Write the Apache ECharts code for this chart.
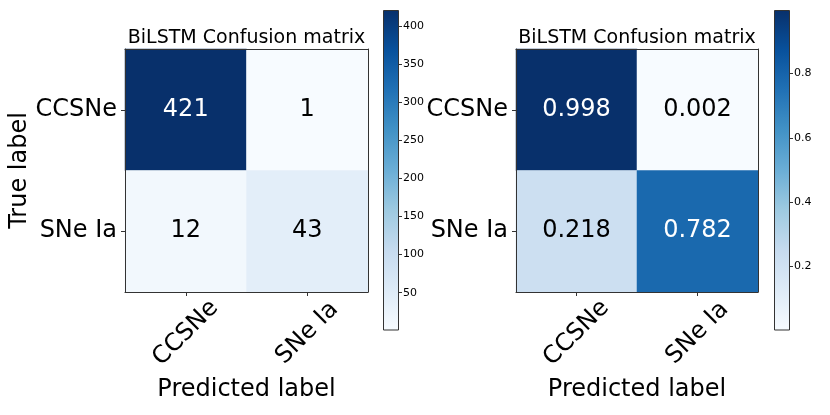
<!DOCTYPE html>
<html>
<head>
<meta charset="utf-8">
<script src="https://cdn.jsdelivr.net/npm/echarts@6/dist/echarts.min.js"></script>
<style>html,body{margin:0;padding:0;background:#fff;}#c{width:830px;height:415px;}</style>
</head>
<body>
<div id="c"></div>
<script>
// ---- data ----
const classes = ['CCSNe', 'SNe Ia'];
const titleText = 'BiLSTM Confusion matrix';
const countMatrix = [[421, 1], [12, 43]];          // rows: true label, cols: predicted
const normMatrix = [[0.998, 0.002], [0.218, 0.782]];
const countTicks = [50, 100, 150, 200, 250, 300, 350, 400];
const normTicks = [0.2, 0.4, 0.6, 0.8];

const blues = ['#f7fbff', '#deebf7', '#c6dbef', '#9ecae1', '#6baed6', '#4292c6', '#2171b5', '#08519c', '#08306b'];
const FONT = 'DejaVu Sans';

function flat(m) { return m.reduce((a, r) => a.concat(r), []); }
function cells(m) {
  const vals = flat(m);
  const mx = Math.max(...vals), mn = Math.min(...vals);
  const thresh = mx / 2;
  const out = [];
  m.forEach((row, i) => row.forEach((v, j) => {
    out.push({ value: [j, i, v], label: { color: v > thresh ? '#ffffff' : '#000000' } });
  }));
  return { data: out, min: mn, max: mx };
}
const cnt = cells(countMatrix);
const nrm = cells(normMatrix);

function gradient() {
  const stops = blues.map((c, i) => ({ offset: 1 - i / (blues.length - 1), color: c })).reverse();
  return new echarts.graphic.LinearGradient(0, 0, 0, 1, stops);
}

const frame = { show: true, lineStyle: { color: '#333', width: 1 } };
function xMain(grid) {
  return {
    type: 'category', data: classes, gridIndex: grid, position: 'bottom', z: 5,
    axisLine: frame, axisTick: { show: true, alignWithLabel: true, length: 4, lineStyle: { color: '#333' } },
    axisLabel: { rotate: 45, align: 'center', verticalAlign: 'middle', margin: 41, fontSize: 24, color: '#000', fontFamily: FONT },
    name: 'Predicted label', nameLocation: 'middle', nameGap: 78,
    nameTextStyle: { fontSize: 24, color: '#000', fontFamily: FONT },
    splitLine: { show: false }
  };
}
function xTop(grid) {
  return { type: 'category', data: classes, gridIndex: grid, position: 'top', z: 5,
    axisLine: frame, axisTick: { show: false }, axisLabel: { show: false }, splitLine: { show: false } };
}
function yMain(grid, withName) {
  const a = {
    type: 'category', data: classes, gridIndex: grid, position: 'left', inverse: true, z: 5,
    axisLine: frame, axisTick: { show: true, alignWithLabel: true, length: 4, lineStyle: { color: '#333' } },
    axisLabel: { margin: 8, fontSize: 24, color: '#000', fontFamily: FONT },
    splitLine: { show: false }
  };
  if (withName) {
    a.name = 'True label'; a.nameLocation = 'middle'; a.nameGap = 91; a.nameRotate = 90;
    a.nameTextStyle = { fontSize: 24, color: '#000', fontFamily: FONT };
  }
  return a;
}
function yRight(grid) {
  return { type: 'category', data: classes, gridIndex: grid, position: 'right', inverse: true, z: 5,
    axisLine: frame, axisTick: { show: false }, axisLabel: { show: false }, splitLine: { show: false } };
}
function xBar(grid) {
  return { type: 'category', data: [''], gridIndex: grid, show: false };
}
function yBar(grid, mn, mx, ticks) {
  return {
    type: 'value', gridIndex: grid, position: 'right', min: mn, max: mx,
    axisLine: { show: false },
    axisTick: { show: true, length: 3, customValues: ticks, lineStyle: { color: '#333' } },
    axisLabel: { show: true, margin: 4, fontSize: 11, color: '#000', fontFamily: FONT, customValues: ticks },
    splitLine: { show: false }
  };
}

const chart = echarts.init(document.getElementById('c'), null, { renderer: 'canvas' });
chart.setOption({
  animation: false,
  backgroundColor: '#fff',
  textStyle: { fontFamily: FONT },
  title: [
    { text: titleText, left: 246.5, top: 29, textAlign: 'center', padding: 0,
      textStyle: { fontSize: 19, fontWeight: 'normal', color: '#000', fontFamily: FONT } },
    { text: titleText, left: 637, top: 29, textAlign: 'center', padding: 0,
      textStyle: { fontSize: 19, fontWeight: 'normal', color: '#000', fontFamily: FONT } }
  ],
  grid: [
    { left: 125, top: 49, width: 243, height: 243 },
    { left: 383, top: 10, width: 16, height: 320 },
    { left: 516, top: 49, width: 242, height: 243 },
    { left: 774, top: 10, width: 16, height: 320 }
  ],
  xAxis: [xMain(0), xTop(0), xBar(1), xMain(2), xTop(2), xBar(3)],
  yAxis: [yMain(0, true), yRight(0), yBar(1, cnt.min, cnt.max, countTicks),
          yMain(2, false), yRight(2), yBar(3, nrm.min, nrm.max, normTicks)],
  visualMap: [
    { show: false, seriesIndex: 0, min: cnt.min, max: cnt.max, dimension: 2, inRange: { color: blues } },
    { show: false, seriesIndex: 2, min: nrm.min, max: nrm.max, dimension: 2, inRange: { color: blues } }
  ],
  series: [
    { type: 'heatmap', xAxisIndex: 0, yAxisIndex: 0, data: cnt.data,
      label: { show: true, fontSize: 24, fontFamily: FONT, formatter: p => String(p.value[2]) },
      itemStyle: { borderWidth: 0 }, emphasis: { disabled: true } },
    { type: 'bar', xAxisIndex: 2, yAxisIndex: 2, data: [cnt.max], barWidth: '100%', silent: true,
      itemStyle: { color: gradient(), borderColor: '#333', borderWidth: 1 } },
    { type: 'heatmap', xAxisIndex: 3, yAxisIndex: 3, data: nrm.data,
      label: { show: true, fontSize: 24, fontFamily: FONT, formatter: p => p.value[2].toFixed(3) },
      itemStyle: { borderWidth: 0 }, emphasis: { disabled: true } },
    { type: 'bar', xAxisIndex: 5, yAxisIndex: 5, data: [nrm.max], barWidth: '100%', silent: true,
      itemStyle: { color: gradient(), borderColor: '#333', borderWidth: 1 } }
  ]
});
</script>
</body>
</html>
